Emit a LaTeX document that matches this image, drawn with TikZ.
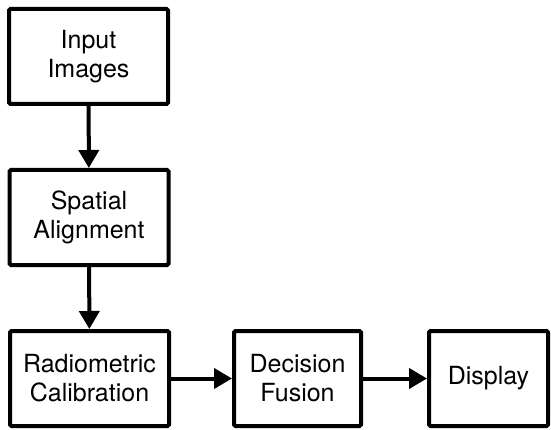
\documentclass[tikz,border=0pt]{standalone}
\usepackage{fontspec}
\setmainfont{TeX Gyre Heros}
\usetikzlibrary{arrows.meta, positioning}
\tikzset{block/.style={draw=black, line width=4pt, rounded corners=1.5pt, fill=white, align=center, font=\fontsize{25}{29}\selectfont, inner sep=0pt},
flow/.style={line width=4pt, -{Triangle[width=20pt,length=18pt]}}}

\begin{document}
\begin{tikzpicture}
 \useasboundingbox (0,0) rectangle (551pt,429pt);

 \node[block, minimum width=159pt, minimum height=95pt] (input) at (88.5pt,372.5pt) {Input\\Images};
 \node[block, minimum width=159pt, minimum height=95pt] (spatial) at (89pt,211.5pt) {Spatial\\Alignment};
 \node[block, minimum width=159pt, minimum height=95pt] (radio) at (89.5pt,50.5pt) {Radiometric\\Calibration};
 \node[block, minimum width=127pt, minimum height=95pt] (fusion) at (297.5pt,50.5pt) {Decision\\Fusion};
 \node[block, minimum width=119pt, minimum height=95pt] (display) at (488.5pt,50.5pt) {Display};

 \draw[flow] (input) -- (spatial);
 \draw[flow] (spatial) -- (radio);
 \draw[flow] (radio) -- (fusion);
 \draw[flow] (fusion) -- (display);

\end{tikzpicture}
\end{document}
